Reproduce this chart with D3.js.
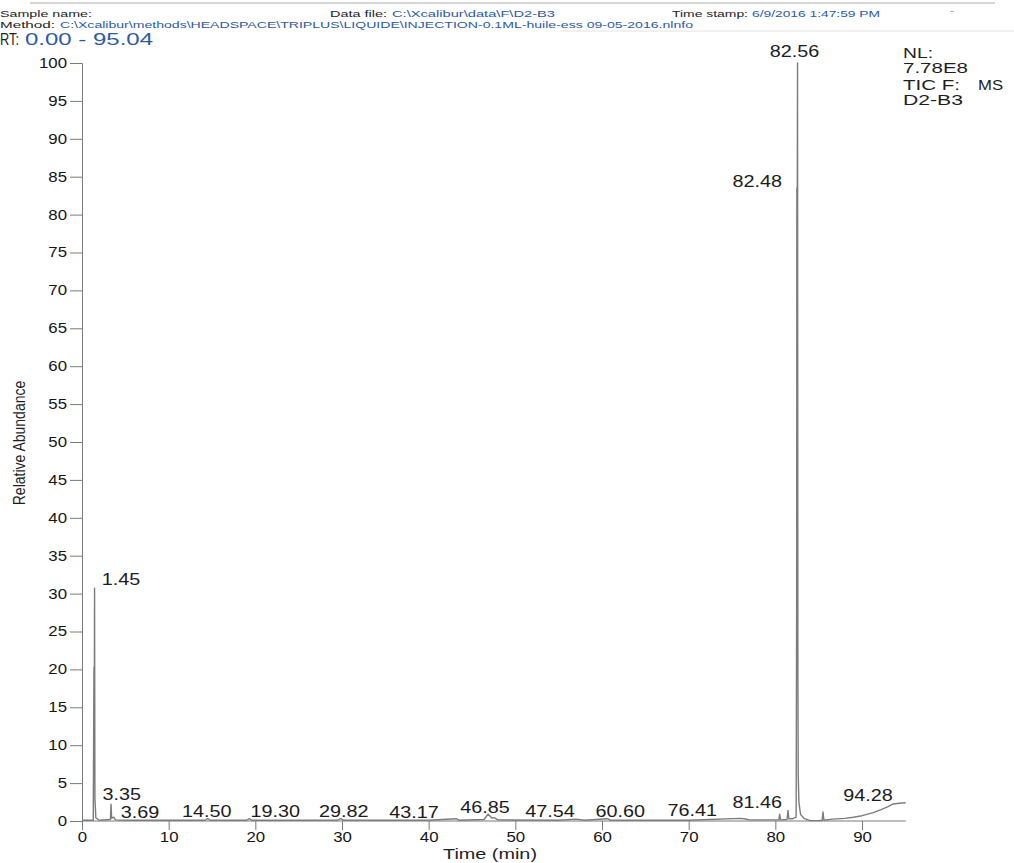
<!DOCTYPE html>
<html>
<head>
<meta charset="utf-8">
<script src="https://cdn.jsdelivr.net/npm/d3@7"></script>
<style>
  body { margin: 0; background: #fff; }
  svg { display: block; font-family: "Liberation Sans", Arial, sans-serif; }
</style>
</head>
<body>
<svg id="chart"></svg>
<script>
// chromatogram trace (RT in min, % relative abundance)
const retentionTimes = [0, 1.30, 1.38, 1.41, 1.45, 1.49, 1.60, 2.0, 3.28, 3.35, 3.42, 3.69, 3.85,
  5.0, 10.0, 14.2, 14.50, 14.8, 19.0, 19.30, 19.6, 25.0, 29.5, 29.82, 30.2, 40.0, 43.17, 43.5,
  46.4, 46.85, 47.3, 47.54, 48.0, 55.0, 57.0, 58.0, 60.60, 61.0, 70.0, 75.9, 76.41, 77.0,
  80.0, 80.4, 80.5, 80.6, 81.35, 81.46, 81.56, 82.0, 82.40, 82.46, 82.48, 82.51, 82.56,
  82.60, 82.64, 82.72, 82.90, 83.3, 84.0, 85.0, 85.4, 85.5, 85.6, 86.6, 88.0, 89.0, 90.0,
  91.3, 92.2, 93.0, 93.6, 94.28, 95.04];
const relAbundance = [0.1, 0.1, 20.3, 10, 30.7, 3, 0.4, 0.1, 0.2, 2.2, 0.4, 0.5, 0.15,
  0.1, 0.1, 0.1, 0.3, 0.1, 0.1, 0.3, 0.1, 0.1, 0.1, 0.3, 0.1, 0.1, 0.3, 0.1,
  0.2, 0.9, 0.4, 0.45, 0.15, 0.1, 0.25, 0.1, 0.3, 0.1, 0.1, 0.35, 0.3, 0.15,
  0.15, 0.15, 0.9, 0.15, 0.2, 1.4, 0.3, 0.3, 0.5, 30, 83.5, 70, 100,
  20, 6, 2.5, 0.9, 0.35, 0.05, 0.05, 0.1, 1.2, 0.1, 0.25, 0.35, 0.5, 0.7,
  1.1, 1.5, 1.9, 2.25, 2.35, 2.4];

// peak annotations and where the software printed them (RT, % level)
const peakLabels = ['1.45', '3.35', '3.69', '14.50', '19.30', '29.82', '43.17', '46.85',
  '47.54', '60.60', '76.41', '81.46', '82.48', '82.56', '94.28'];
const labelTimes = [4.5, 4.6, 6.7, 14.4, 22.3, 30.2, 38.3, 46.5, 54.0, 62.1, 70.4, 77.9, 77.9, 82.2, 90.7];
const labelLevels = [31.1, 2.8, 0.4, 0.5, 0.5, 0.5, 0.4, 1.0, 0.5, 0.5, 0.6, 1.7, 83.6, 100.8, 2.6];

const xTickValues = [0, 10, 20, 30, 40, 50, 60, 70, 80, 90];
const yTickValues = [0, 5, 10, 15, 20, 25, 30, 35, 40, 45, 50, 55, 60, 65, 70, 75, 80, 85, 90, 95, 100];

const W = 1014, H = 863, SX = 1.2;
const DARK = '#1e1e1e', BLUE = '#2b5aa8', AXIS = '#7a7a7a';

const svg = d3.select('#chart').attr('width', W).attr('height', H);

const x = d3.scaleLinear().domain([0, 95.04]).range([82, 905.7]);
const y = d3.scaleLinear().domain([0, 100]).range([821, 63]);

function txt(str, px, py, opt) {
  const t = svg.append('text')
    .attr('fill', opt.fill || DARK)
    .attr('font-size', opt.size)
    .style('text-anchor', opt.anchor || 'start')
    .text(str);
  if (opt.len) {
    t.attr('x', px).attr('y', py)
      .attr('textLength', opt.len)
      .attr('lengthAdjust', 'spacingAndGlyphs');
  } else {
    t.attr('transform', `translate(${px},${py}) scale(${SX},1)` + (opt.rot ? ` rotate(${opt.rot})` : ''));
  }
  return t;
}

// header (scan border lines)
svg.append('line').attr('x1', 30).attr('x2', 995).attr('y1', 3).attr('y2', 3)
  .attr('stroke', '#c8c8c8').attr('stroke-width', 1.5);
svg.append('line').attr('x1', 560).attr('x2', W).attr('y1', 31).attr('y2', 31)
  .attr('stroke', '#e2e2e2').attr('stroke-width', 1);

txt('Sample name:', 0, 17, { size: 9, len: 92 });
txt('Data file:', 330, 17, { size: 9, len: 57 });
txt('C:\\Xcalibur\\data\\F\\D2-B3', 392, 17, { size: 9, len: 163, fill: BLUE });
txt('Time stamp:', 672, 17, { size: 9, len: 76 });
txt('6/9/2016 1:47:59 PM', 752, 17, { size: 9, len: 128, fill: BLUE });
txt('-', 950, 14, { size: 9, len: 4, fill: '#888' });
txt('Method:', 0, 28, { size: 9, len: 55 });
txt('C:\\Xcalibur\\methods\\HEADSPACE\\TRIPLUS\\LIQUIDE\\INJECTION-0.1ML-huile-ess 09-05-2016.nlnfo',
  60, 28, { size: 9, len: 633, fill: BLUE });
txt('RT:', 0, 45, { size: 16.5, len: 19 });
txt('0.00 - 95.04', 25, 45, { size: 16.5, len: 128, fill: BLUE });

// axes
const gx = svg.append('g').attr('transform', `translate(0,${y(0)})`);
gx.call(d3.axisBottom(x).tickValues(d3.range(0, 95, 2)).tickSize(5).tickFormat(''));
gx.call(d3.axisBottom(x).tickValues(xTickValues).tickSize(9).tickPadding(2).tickFormat(d3.format('d')));
gx.select('.domain').attr('d', `M${x(0)},0H${x(95.04)}`);

const gy = svg.append('g').attr('transform', `translate(${x(0)},0)`);
gy.call(d3.axisLeft(y).tickValues(d3.range(0, 101, 1)).tickSize(6).tickFormat(''));
gy.call(d3.axisLeft(y).tickValues(yTickValues).tickSize(12).tickPadding(3).tickFormat(d3.format('d')));

svg.selectAll('.domain, .tick line').attr('stroke', AXIS).attr('stroke-width', 1);
svg.selectAll('.tick text').attr('font-size', 14).attr('fill', '#151515')
  .attr('font-family', '"Liberation Sans", Arial, sans-serif');
gx.selectAll('.tick text').attr('transform', `scale(${SX},1)`);
gy.selectAll('.tick text').attr('transform', `scale(${SX},1)`).attr('x', -15 / SX);

txt('Time (min)', 443, 859, { size: 14, len: 94 });
txt('Relative Abundance', 25, 443, { size: 14, anchor: 'middle', rot: -90 });

// trace
const trace = retentionTimes.map((t, i) => [t, relAbundance[i]]);
svg.append('path')
  .datum(trace)
  .attr('fill', 'none')
  .attr('stroke', '#7c7c7c')
  .attr('stroke-width', 1.4)
  .attr('stroke-linejoin', 'round')
  .attr('d', d3.line().x(d => x(d[0])).y(d => y(d[1])));

// peak labels
peakLabels.forEach((lab, i) => {
  txt(lab, x(labelTimes[i]), y(labelLevels[i]), { size: 16.5, anchor: 'middle', fill: '#1c1c1c' });
});

// legend block
txt('NL:', 903, 58, { size: 14, len: 30 });
txt('7.78E8', 903, 73, { size: 14, len: 65 });
txt('TIC F:', 903, 90, { size: 14, len: 57 });
txt('MS', 978, 90, { size: 14, len: 25 });
txt('D2-B3', 903, 105, { size: 14, len: 60 });
</script>
</body>
</html>
